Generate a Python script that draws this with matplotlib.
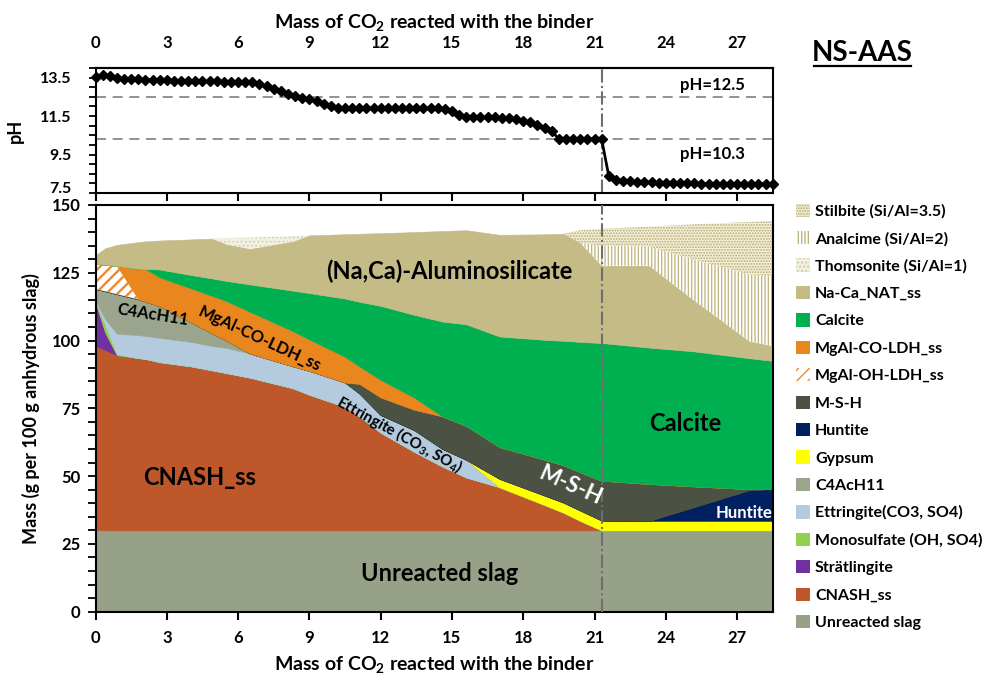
import matplotlib
matplotlib.use('Agg')
import matplotlib.pyplot as plt
from matplotlib.patches import Patch
from matplotlib.lines import Line2D
import numpy as np

plt.rcParams['font.family'] = ['Lato', 'DejaVu Sans']
plt.rcParams['font.weight'] = 'bold'
plt.rcParams['mathtext.fontset'] = 'custom'
plt.rcParams['mathtext.rm'] = 'Lato:bold'
plt.rcParams['mathtext.bf'] = 'Lato:bold'
plt.rcParams['mathtext.it'] = 'Lato:bold:italic'
plt.rcParams['axes.linewidth'] = 1.5

# ---------------- pH data ----------------
ph_x = [0.0, 0.3, 0.6, 0.9, 1.2, 1.5, 1.8, 2.1, 2.4, 2.7, 3.0, 3.3, 3.6, 3.9, 4.2, 4.5,
        4.8, 5.1, 5.4, 5.7, 6.0, 6.3, 6.6, 6.9, 7.2, 7.5, 7.8, 8.1, 8.4, 8.7, 9.0, 9.3,
        9.6, 9.9, 10.2, 10.5, 10.8, 11.1, 11.4, 11.7, 12.0, 12.3, 12.6, 12.9, 13.2, 13.5,
        13.8, 14.1, 14.4, 14.7, 15.0, 15.3, 15.6, 15.9, 16.2, 16.5, 16.8, 17.1, 17.4, 17.7,
        18.0, 18.3, 18.6, 18.9, 19.2, 19.5, 19.8, 20.1, 20.4, 20.7, 21.0, 21.3, 21.6, 21.9,
        22.2, 22.5, 22.8, 23.1, 23.4, 23.7, 24.0, 24.3, 24.6, 24.9, 25.2, 25.5, 25.8, 26.1,
        26.4, 26.7, 27.0, 27.3, 27.6, 27.9, 28.2, 28.5]
ph_values = [13.52, 13.62, 13.60, 13.47, 13.42, 13.42, 13.41, 13.40, 13.38, 13.37, 13.36,
             13.35, 13.34, 13.33, 13.32, 13.31, 13.30, 13.30, 13.29, 13.29, 13.28, 13.28,
             13.26, 13.15, 13.04, 12.92, 12.78, 12.65, 12.53, 12.45, 12.38, 12.28, 12.13,
             12.00, 11.93, 11.92, 11.92, 11.92, 11.92, 11.92, 11.92, 11.92, 11.92, 11.92,
             11.92, 11.92, 11.92, 11.92, 11.91, 11.88, 11.75, 11.56, 11.44, 11.43, 11.43,
             11.43, 11.43, 11.42, 11.40, 11.35, 11.27, 11.18, 11.03, 10.90, 10.70, 10.32,
             10.30, 10.30, 10.30, 10.30, 10.30, 10.30, 8.38, 8.20, 8.14, 8.10, 8.08, 8.06,
             8.05, 8.04, 8.03, 8.02, 8.01, 8.00, 8.00, 7.99, 7.99, 7.98, 7.98, 7.97, 7.97,
             7.96, 7.96, 7.96, 7.95, 7.95]
ph_levels = [12.5, 10.3]
co2_transition = 21.3

# ---------------- phase assemblage data (g / 100 g slag) ----------------
co2 = [0, 0.4, 0.9, 1.8, 2.1, 2.7, 4.0, 4.9, 5.5, 6.5, 8.3, 9.0, 10.5, 11.1, 12.0, 13.4,
       14.6, 15.6, 17.0, 19.0, 19.7, 20.4, 21.3, 23.3, 25.2, 27.5, 28.5]
unreacted_slag = [30, 30, 30, 30, 30, 30, 30, 30, 30, 30, 30, 30, 30, 30, 30, 30, 30, 30,
                  30, 30, 30, 30, 30, 30, 30, 30, 30]
cnash = [68, 66.5, 64.5, 63.5, 63.2, 62, 60.5, 59, 58, 56.3, 52.4, 50, 45.5, 42, 36, 29,
         23.5, 19.5, 15.9, 9, 6.5, 3.5, 0, 0, 0, 0, 0]
stratlingite = [16, 6.5, 0, 0, 0, 0, 0, 0, 0, 0, 0, 0, 0, 0, 0, 0, 0, 0, 0, 0, 0, 0, 0, 0,
                0, 0, 0]
monosulfate = [0.3, 3, 0.5, 0, 0, 0, 0, 0, 0, 0, 0, 0, 0, 0, 0, 0, 0, 0, 0, 0, 0, 0, 0, 0,
               0, 0, 0]
ettringite = [0.2, 2, 7.5, 8.5, 8.5, 9, 9, 9, 9.3, 8.9, 8.1, 8.8, 9, 8.5, 6.5, 8, 6.5, 6.5,
              0, 0, 0, 0, 0, 0, 0, 0, 0]
c4ach11 = [4.5, 10.2, 14.6, 13.2, 12.6, 11.7, 7.3, 4.7, 2.7, 0, 0, 0, 0, 0, 0, 0, 0, 0, 0,
           0, 0, 0, 0, 0, 0, 0, 0]
gypsum = [0, 0, 0, 0, 0, 0, 0, 0, 0, 0, 0, 0, 0, 0, 0, 0, 0, 0, 3.1, 3.5, 3.7, 3.8, 3.6,
          3.5, 3.5, 3.5, 3.5]
huntite = [0, 0, 0, 0, 0, 0, 0, 0, 0, 0, 0, 0, 0, 0, 0, 0, 0, 0, 0, 0, 0, 0, 0, 0, 5.1,
           11.3, 11.7]
msh = [0, 0, 0, 0, 0, 0, 0, 0, 0, 0, 0, 0, 0, 3.5, 6.5, 7.5, 12, 12.5, 11.7, 13.3, 13.8,
       14.1, 14.7, 13.6, 7.6, 0.4, 0]
mgal_oh_ldh = [9.3, 9.8, 10.4, 0, 0, 0, 0, 0, 0, 0, 0, 0, 0, 0, 0, 0, 0, 0, 0, 0, 0, 0, 0,
               0, 0, 0, 0]
mgal_co_ldh = [0, 0, 0, 11.3, 12.1, 10.6, 12.5, 13.8, 14.6, 15.4, 13, 11.6, 9.5, 6.5, 6.5,
               4.5, 0, 0, 0, 0, 0, 0, 0, 0, 0, 0, 0]
calcite = [0, 0, 0, 0, 0, 2.9, 4.9, 6.4, 7.4, 10.1, 14.9, 17.1, 21.5, 23.8, 27.3, 30.5, 35,
           37.5, 40.8, 44.4, 45.9, 48.1, 50.8, 50.3, 49.8, 48.3, 47.3]
na_ca_nat = [3.2, 6, 7.8, 9.8, 10.2, 10.7, 13.1, 14.7, 13.5, 13.1, 18.1, 21.3, 23.7, 25.1,
             26.8, 30.5, 33.4, 34.7, 37.5, 39, 39.5, 36.5, 28.5, 30.2, 18.7, 6.3, 5.5]
thomsonite = [0, 0, 0, 0, 0, 0, 0, 0, 2.3, 4.2, 2, 0, 0, 0, 0, 0, 0, 0, 0, 0, 0, 0, 0, 0,
              0, 0, 0]
analcime = [0, 0, 0, 0, 0, 0, 0, 0, 0, 0, 0, 0, 0, 0, 0, 0, 0, 0, 0, 0, 0, 0, 7.4, 7.1,
            15.2, 24.6, 25.9]
stilbite = [0, 0, 0, 0, 0, 0, 0, 0, 0, 0, 0, 0, 0, 0, 0, 0, 0, 0, 0, 0, 0, 4.7, 6.2, 7.3,
            13, 19.3, 20.2]

TAN = '#c4bb87'
# (label, values, facecolor, hatch, hatchcolor, hatch linewidth)  bottom -> top
phases = [
    ('Unreacted slag', unreacted_slag, '#96a187', None, None, 0),
    ('CNASH_ss', cnash, '#be582b', None, None, 0),
    ('Strätlingite', stratlingite, '#7030a0', None, None, 0),
    ('Monosulfate (OH, SO4)', monosulfate, '#92d050', None, None, 0),
    ('Ettringite(CO3, SO4)', ettringite, '#b3cadf', None, None, 0),
    ('C4AcH11', c4ach11, '#9ba48d', None, None, 0),
    ('Gypsum', gypsum, '#ffff00', None, None, 0),
    ('Huntite', huntite, '#002060', None, None, 0),
    ('M-S-H', msh, '#4b5243', None, None, 0),
    ('MgAl-OH-LDH_ss', mgal_oh_ldh, '#ffffff', '///', '#f0882e', 1.7),
    ('MgAl-CO-LDH_ss', mgal_co_ldh, '#e9861d', None, None, 0),
    ('Calcite', calcite, '#00b050', None, None, 0),
    ('Na-Ca_NAT_ss', na_ca_nat, TAN, None, None, 0),
    ('Thomsonite (Si/Al=1)', thomsonite, '#f2f0e2', '....', '#d3cca6', 0.7),
    ('Analcime (Si/Al=2)', analcime, '#ffffff', '|||||', '#bdb37c', 0.9),
    ('Stilbite (Si/Al=3.5)', stilbite, '#f4f0da', '......', '#b5aa70', 0.9),
]

fig = plt.figure(figsize=(9.85, 6.83), dpi=100)
ax_ph = fig.add_axes([0.0970, 0.7174, 0.6875, 0.1830])
ax = fig.add_axes([0.0970, 0.1044, 0.6875, 0.5955])

# ---------------- stacked areas ----------------
x = np.array(co2, dtype=float)
base = np.zeros_like(x)
handles = []
for label, vals, fc, hatch, hc, hlw in phases:
    top = base + np.array(vals, dtype=float)
    if hatch:
        with plt.rc_context({'hatch.linewidth': hlw}):
            ax.fill_between(x, base, top, facecolor=fc, edgecolor=hc, hatch=hatch,
                            linewidth=0, zorder=2)
            handles.append(Patch(facecolor=fc, edgecolor=hc, hatch=hatch, linewidth=0,
                                 label=label))
    else:
        ax.fill_between(x, base, top, facecolor=fc, edgecolor=fc, linewidth=0.4, zorder=2)
        handles.append(Patch(facecolor=fc, edgecolor=fc, linewidth=0, label=label))
    base = top

ax.set_xlim(0, 28.5)
ax.set_ylim(0, 150)
ax.set_xticks([0, 3, 6, 9, 12, 15, 18, 21, 24, 27])
ax.set_yticks([0, 25, 50, 75, 100, 125, 150])
ax.set_yticks(np.arange(0, 151, 5), minor=True)
ax.tick_params(axis='x', which='both', direction='out', length=6, width=1.5,
               labelsize=12, pad=7, top=False)
ax.tick_params(axis='y', which='both', direction='out', length=6, width=1.3,
               labelsize=12, pad=5, right=False)
for lbl in ax.get_yticklabels():
    lbl.set_verticalalignment('center_baseline')
ax.set_xlabel('Mass of CO$_\\mathbf{2}$ reacted with the binder', fontsize=14,
              fontweight='bold', labelpad=6)
ax.set_ylabel('Mass (g per 100 g anhydrous slag)', fontsize=13, fontweight='bold',
              labelpad=8)
ax.axvline(co2_transition, color='#6e6e6e', linestyle='-.', linewidth=1.5, zorder=5)

# in-plot labels
ax.text(14.9, 125.5, '(Na,Ca)-Aluminosilicate', fontsize=17, ha='center', va='center',
        fontweight='bold', zorder=6)
ax.text(4.4, 49.5, 'CNASH_ss', fontsize=17, ha='center', va='center', fontweight='bold',
        zorder=6)
ax.text(14.5, 14, 'Unreacted slag', fontsize=17, ha='center', va='center',
        fontweight='bold', zorder=6)
ax.text(24.8, 69.5, 'Calcite', fontsize=17, ha='center', va='center', fontweight='bold',
        zorder=6)
ax.text(20.0, 46.5, 'M-S-H', fontsize=16, ha='center', va='center', fontweight='bold',
        color='white', rotation=-24, zorder=6)
ax.text(27.3, 36.5, 'Huntite', fontsize=12, ha='center', va='center', fontweight='bold',
        color='white', zorder=6)
ax.text(2.4, 109.5, 'C4AcH11', fontsize=12, ha='center', va='center', fontweight='bold',
        rotation=-9, zorder=6)
ax.text(6.9, 100.5, 'MgAl-CO-LDH_ss', fontsize=12, ha='center', va='center',
        fontweight='bold', rotation=-25, zorder=6)
ax.text(12.8, 65.5, 'Ettringite (CO$_\\mathbf{3}$, SO$_\\mathbf{4}$)', fontsize=11,
        ha='center', va='center', fontweight='bold', rotation=-29, zorder=6)

# ---------------- pH panel ----------------
ax_ph.plot(ph_x, ph_values, color='black', linewidth=2, marker='D', markersize=5,
           clip_on=False, zorder=4)
for lvl in ph_levels:
    ax_ph.axhline(lvl, color='#7f7f7f', linestyle=(0, (6, 4)), linewidth=1.2, zorder=2)
ax_ph.axvline(co2_transition, color='#6e6e6e', linestyle='-.', linewidth=1.5, zorder=2)
ax_ph.text(25.95, 13.1, 'pH=12.5', fontsize=12, ha='center', va='center')
ax_ph.text(25.95, 9.55, 'pH=10.3', fontsize=12, ha='center', va='center')
ax_ph.set_xlim(0, 28.5)
ax_ph.set_ylim(7.5, 14)
ax_ph.set_yticks([7.5, 9.5, 11.5, 13.5])
ax_ph.set_yticks(np.arange(7.5, 14.01, 0.5), minor=True)
ax_ph.set_xticks([0, 3, 6, 9, 12, 15, 18, 21, 24, 27])
ax_ph.tick_params(axis='x', which='both', direction='out', length=6, width=1.5,
                  labelbottom=False, top=False)
ax_ph.tick_params(axis='y', which='both', direction='out', length=5, width=1.3,
                  labelsize=11.5, pad=12)
ph_ticks = ax_ph.yaxis.get_major_ticks()
for i, tk in enumerate(ph_ticks):
    tk.label1.set_verticalalignment('baseline' if i == 0 else 'center_baseline')
ax_ph.set_ylabel('pH', fontsize=13, fontweight='bold', labelpad=12)
sec = ax_ph.secondary_xaxis('top')
sec.set_xticks([0, 3, 6, 9, 12, 15, 18, 21, 24, 27])
sec.tick_params(axis='x', length=0, labelsize=12, pad=12)
sec.set_xlabel('Mass of CO$_\\mathbf{2}$ reacted with the binder', fontsize=14,
               fontweight='bold', labelpad=5)

# ---------------- legend & title ----------------
fig.legend(handles=handles[::-1], loc='upper left', bbox_to_anchor=(0.808, 0.702),
           frameon=False, fontsize=11.5, handlelength=0.9, handleheight=0.9,
           handletextpad=0.3, labelspacing=0.77, borderpad=0, borderaxespad=0)

fig.text(0.875, 0.922, 'NS-AAS', fontsize=20, fontweight='bold', ha='center',
         va='center')
fig.add_artist(Line2D([0.826, 0.925], [0.903, 0.903], color='black', linewidth=1.6,
                      transform=fig.transFigure))

fig.savefig('out.png', dpi=100)
